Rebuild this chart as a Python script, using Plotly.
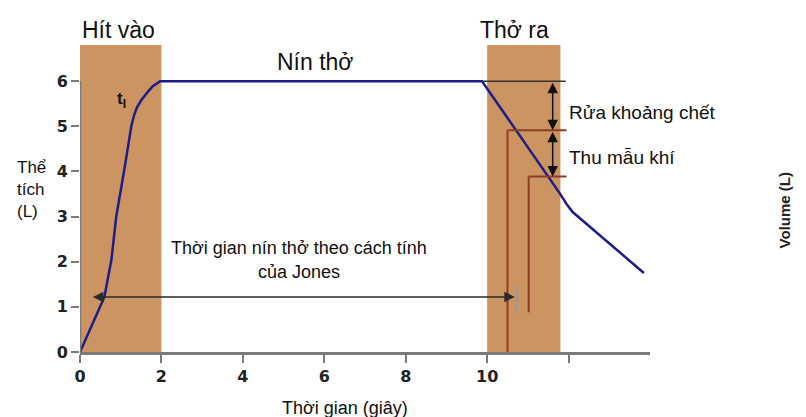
"""
Jones breath-hold volume/time diagram (Vietnamese labels).
"""

import plotly.graph_objects as go

# =============================================================================
# Data
# =============================================================================

time_s = [0, 0.31, 0.6, 0.72, 0.77, 0.89, 1.0, 1.09, 1.18, 1.26, 1.33, 1.4,
          1.5, 1.58, 1.68, 1.78, 1.88, 1.97, 9.87, 9.95, 11.78, 11.95, 12.1, 13.85]
volume_l = [0, 0.64, 1.22, 1.8, 2.03, 3.0, 3.55, 4.05, 4.55, 5.0, 5.25, 5.42,
            5.57, 5.67, 5.78, 5.88, 5.95, 6.0, 6.0, 5.9, 3.52, 3.28, 3.1, 1.75]

x_ticks = [0, 2, 4, 6, 8, 10, 12]
x_tick_labels = ["0", "2", "4", "6", "8", "10", ""]
y_ticks = [0, 1, 2, 3, 4, 5, 6]

inhale = [0, 2]
exhale = [10, 11.8]
phase_top = 6.8

washout = [6.0, 4.91]
sample = [4.91, 3.89]
washout_x = 10.5
sample_x = 11.02
sample_bottom = 0.88

jones_start = 0.28
jones_end = 10.68
jones_y = 1.22

BROWN = "rgb(204,148,96)"
DARK_BROWN = "rgb(140,62,35)"
NAVY = "#1c1c8a"
AXIS = "#7a7a7a"
TEXT_FONT = "Liberation Sans, Arial, sans-serif"

fig = go.Figure()

# =============================================================================
# Phase shading and guide lines
# =============================================================================

for x0, x1 in (inhale, exhale):
    fig.add_shape(type="rect", x0=x0, x1=x1, y0=0, y1=phase_top,
                  fillcolor=BROWN, line_width=0, layer="below")

fig.add_shape(type="line", x0=0, x1=0, y0=0, y1=6,
              line=dict(color=AXIS, width=2.5))

fig.add_shape(type="line", x0=9.87, x1=11.93, y0=washout[0], y1=washout[0],
              line=dict(color="#333333", width=1.5))
fig.add_shape(type="line", x0=washout_x, x1=11.95, y0=washout[1], y1=washout[1],
              line=dict(color=DARK_BROWN, width=2))
fig.add_shape(type="line", x0=washout_x, x1=washout_x, y0=0, y1=washout[1],
              line=dict(color=DARK_BROWN, width=2))
fig.add_shape(type="line", x0=sample_x, x1=11.95, y0=sample[1], y1=sample[1],
              line=dict(color=DARK_BROWN, width=2))
fig.add_shape(type="line", x0=sample_x, x1=sample_x, y0=sample_bottom, y1=sample[1],
              line=dict(color=DARK_BROWN, width=2))
fig.add_shape(type="line", x0=10.72, x1=10.72, y0=sample_bottom, y1=1.48,
              line=dict(color="#9a9a9a", width=2))

# =============================================================================
# Volume curve
# =============================================================================

fig.add_trace(go.Scatter(
    x=time_s, y=volume_l, mode="lines",
    line=dict(color=NAVY, width=2.5),
    hoverinfo="skip", showlegend=False,
))

# =============================================================================
# Arrows
# =============================================================================

arrow_style = dict(xref="x", yref="y", axref="x", ayref="y", text="",
                   showarrow=True, arrowhead=2, arrowsize=1.4,
                   arrowside="end+start", arrowcolor="#111111", arrowwidth=1.5)

fig.add_annotation(x=jones_end, y=jones_y, ax=jones_start, ay=jones_y,
                   **{**arrow_style, "arrowcolor": "#2a2a2a"})
fig.add_annotation(x=11.61, y=washout[1], ax=11.61, ay=washout[0], **arrow_style)
fig.add_annotation(x=11.61, y=sample[1], ax=11.61, ay=sample[0], **arrow_style)

# =============================================================================
# Text
# =============================================================================

def label(x, y, text, size=16, xanchor="center", ref="", **kw):
    fig.add_annotation(x=x, y=y, xref=ref or "x", yref=ref or "y", text=text,
                       showarrow=False, xanchor=xanchor, yanchor="middle",
                       font=dict(family=TEXT_FONT, size=size, color="#111111"), **kw)

label(0.067, 1.019, "Hít vào", size=23, ref="paper")
label(0.763, 1.019, "Thở ra", size=23, ref="paper")
label(5.76, 6.42, "Nín thở", size=23)
label(1.02, 5.58, "<b>t<sub>I</sub></b>", size=17)
label(11.95, 5.31, "Rửa khoảng chết", size=19, xanchor="left")
label(11.95, 4.31, "Thu mẫu khí", size=19, xanchor="left")
label(5.39, 2.31, "Thời gian nín thở theo cách tính", size=18)
label(5.39, 1.78, "của Jones", size=18)
label(0.465, -0.177, "Thời gian (giây)", size=18, ref="paper")
label(-0.114, 0.513, "Thể<br>tích<br>(L)", size=17, xanchor="left",
      align="left", ref="paper")
fig.add_annotation(x=1.254, y=0.449, xref="paper", yref="paper",
                   text="<b>Volume (L)</b>", showarrow=False, textangle=-90,
                   font=dict(family="Liberation Sans, Arial", size=15, color="#222222"))

# =============================================================================
# Layout
# =============================================================================

tick_font = dict(family="DejaVu Sans, Verdana", size=16, color="#222222", weight="bold")

# the page body adds an 8px margin, so the figure is sized to fit inside it
fig.update_layout(
    width=798, height=409,
    margin=dict(l=72, r=156, t=28, b=65),
    paper_bgcolor="white", plot_bgcolor="white",
    showlegend=False,
    xaxis=dict(range=[0, 14], tickvals=x_ticks, ticktext=x_tick_labels,
               showgrid=False, zeroline=False, showline=True, automargin=False,
               linecolor=AXIS, linewidth=2.5, ticks="outside", ticklen=8,
               tickwidth=2, tickcolor=AXIS, tickfont=tick_font, fixedrange=True),
    yaxis=dict(range=[0, 7], tickvals=y_ticks, showgrid=False, zeroline=False,
               showline=False, ticks="outside", ticklen=8, tickwidth=2,
               automargin=False, tickcolor=AXIS, tickfont=tick_font,
               fixedrange=True),
)

fig.write_html("out.html")
